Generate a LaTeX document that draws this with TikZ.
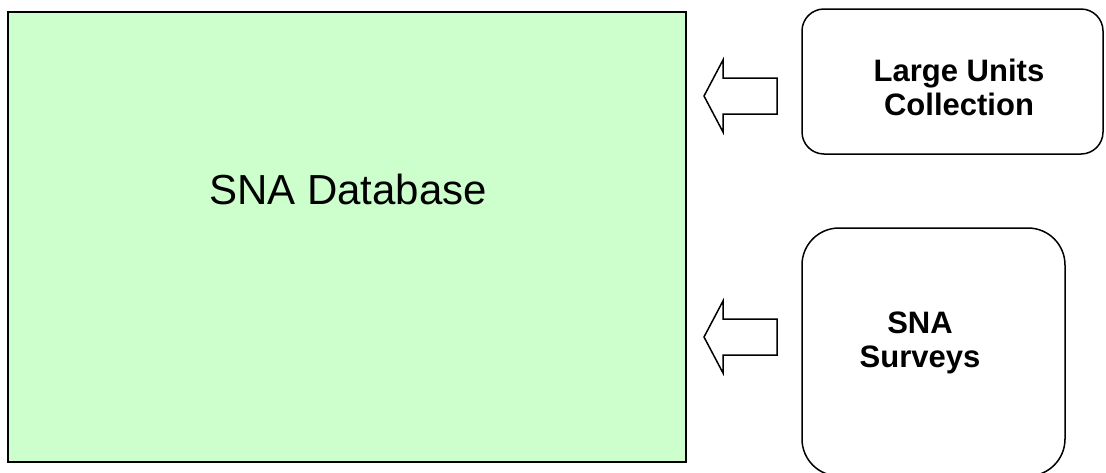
\documentclass[tikz,border=0pt]{standalone}
\usepackage{fontspec}
\setmainfont{Liberation Sans}
\definecolor{dbgreen}{HTML}{CCFFCC}
\begin{document}
\begin{tikzpicture}[x=1pt,y=-1pt,
  dbbox/.style={draw=black, line width=2pt, fill=dbgreen, inner sep=0pt},
  srcbox/.style={draw=black, line width=1.5pt, rounded corners=#1, inner sep=0pt},
  blockarrow/.style={draw=black, line width=1.5pt, fill=white, line join=miter},
  lbl/.style={inner sep=0pt, align=center, font=\bfseries\fontsize{31}{34}\selectfont}
]
\useasboundingbox (0,0) rectangle (1106,472);
\node[dbbox, minimum width=678pt, minimum height=450pt] (db) at (347,237) {};
\node[inner sep=0pt, font=\fontsize{42}{48}\selectfont] (dbtxt) at (348,189) {SNA Database};
\node[srcbox=22pt, minimum width=301pt, minimum height=145pt] (luc) at (952.5,81.5) {};
\node[lbl] (luctxt) at (959,87) {Large Units\\Collection};
\node[srcbox=37pt, minimum width=263pt, minimum height=248pt] (sur) at (933.5,352) {};
\node[lbl] (surtxt) at (920,343) {SNA\\Surveys};
% block arrows
\draw[blockarrow] (777,78) -- (723,78) -- (723,60) -- (704,96) -- (723,132) -- (723,114) -- (777,114) -- cycle;
\draw[blockarrow] (777,319) -- (723,319) -- (723,301) -- (704,337) -- (723,373) -- (723,355) -- (777,355) -- cycle;
\end{tikzpicture}
\end{document}
